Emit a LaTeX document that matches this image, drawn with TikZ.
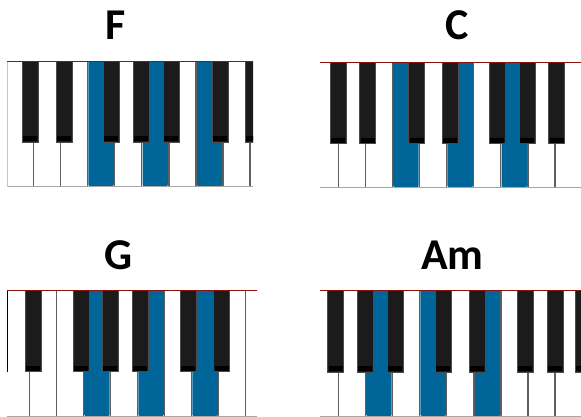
\documentclass[tikz,border=0pt]{standalone}
\usepackage{fontspec}
\setmainfont{Carlito}
\definecolor{keyblue}{RGB}{0,102,153}
\definecolor{keyblack}{RGB}{27,27,27}
\definecolor{keyedge}{RGB}{75,75,75}
\definecolor{divider}{RGB}{95,95,95}
\definecolor{topred}{RGB}{140,18,18}
\tikzset{
  chordlabel/.style={font=\fontsize{44}{44}\selectfont\bfseries, anchor=base, inner sep=0pt},
  whitediv/.style={divider, line width=1.5pt},
  blueface/.style={fill=keyblue, rounded corners=1.2pt},
  blackface/.style={fill=keyblack},
  blackrim/.style={draw=keyedge, line width=0.6pt},
  redtop/.style={draw=topred, line width=1.3pt},
  bottomedge/.style={draw=gray!70, line width=1.2pt}
}
% #1 left, #2 right, #3 top, #4 black bottom, #5 bottom,
% #6 white boundaries, #7 blue keys a/b, #8 black key left edges
\newcommand{\pianopanel}[8]{%
  \begin{scope}
    \clip (#1,#3) rectangle (#2,#5);
    \fill[white] (#1,#3) rectangle (#2,#5);
    \foreach \a/\b in {#7} {\path[blueface] (\a+0.8,#3-3) rectangle (\b-0.8,#5-0.9);}
    \foreach \x in {#6} {\draw[whitediv] (\x,#3) -- (\x,#5);}
    \draw[bottomedge] (#1,#5-0.6) -- (#2,#5-0.6);
    \foreach \x in {#8} {
      \fill[blackface] (\x,#3) rectangle (\x+16.7,#4);
      \draw[blackrim] (\x+0.3,#3) rectangle (\x+16.4,#4-0.3);
      \fill[black] (\x+1.3,#4-6.2) rectangle (\x+15.4,#4-1.3);
    }
    \draw[redtop] (#1,#3) -- (#2,#3);
  \end{scope}}
\begin{document}
\begin{tikzpicture}[x=1pt,y=-1pt]
\useasboundingbox (0,0) rectangle (581,417);
\fill[white] (0,0) rectangle (581,417);

% titles
\node[chordlabel] (tF) at (115.3,40) {F};
\node[chordlabel] (tC) at (457.5,40) {C};
\node[chordlabel] (tG) at (119,269.6) {G};
\node[chordlabel] (tAm) at (452.5,269.8) {Am};

% F major: F A C
\pianopanel{7}{253}{61.7}{142.6}{187}
  {33.3,60.4,87.5,114.6,141.7,168.8,195.9,223.0,250.1}
  {87.5/114.6,141.7/168.8,195.9/223.0}
  {21.7,56,103,132.7,162.7,211.7,245}
\draw[gray!45, line width=1pt] (7.5,61.7) -- (7.5,187);

% C major: C E G
\pianopanel{320}{581}{62.3}{144}{188}
  {338.3,365.4,392.4,419.5,446.6,473.7,500.7,527.8,554.9}
  {392.4/419.5,446.6/473.7,500.7/527.8}
  {330,359.3,408.3,441.7,489,519,548.3}

% G major: G B D
\pianopanel{7}{257}{290.7}{372}{417}
  {29.3,56.4,83.4,110.5,137.5,164.6,191.6,218.7,245.7}
  {83.4/110.5,137.5/164.6,191.6/218.7}
  {25,72.7,101.7,131.7,180,213.3}
\draw[black, line width=1.2pt] (7.6,290.7) -- (7.6,372);

% A minor: A C E
\pianopanel{320}{581}{290.7}{372.3}{417}
  {338.3,365.4,392.5,419.6,446.7,473.8,500.9,528.0,555.1}
  {365.4/392.5,419.6/446.7,473.8/500.9}
  {327.3,356.7,386.7,435,469,516.7,546.7,575}
\end{tikzpicture}
\end{document}
